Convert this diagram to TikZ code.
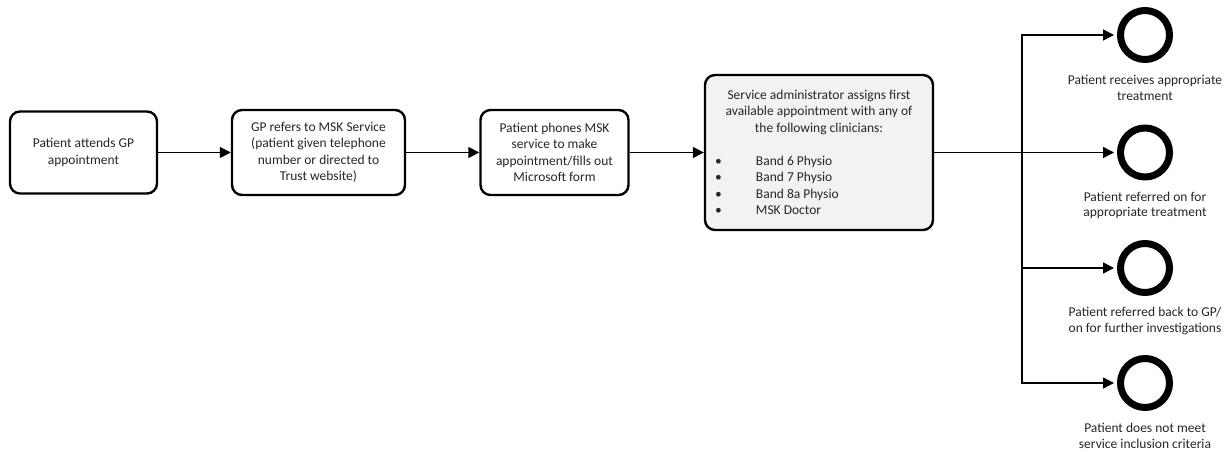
\documentclass[tikz,border=0pt]{standalone}
\usepackage{fontspec}
\setmainfont{Carlito}
\usetikzlibrary{arrows.meta}

\def\punkt#1#2{ ({#1},{451-(#2)}) }
\def\zeile#1{\makebox[208pt][l]{\makebox[41pt][l]{\textbullet}#1}}
\tikzset{
	kasten/.style={draw,line width=2.4pt,rounded corners=10pt,align=center,inner sep=0pt,
		text=black!85,font=\fontsize{13.5}{16.5}\selectfont},
	kreis/.style={draw,circle,line width=7pt,minimum size=49pt,inner sep=0pt},
	fluss/.style={line width=1.5pt,-{Triangle[length=11pt,width=11pt]}},
	beschriftung/.style={align=center,inner sep=0pt,text=black!85,font=\fontsize{13.5}{15.5}\selectfont}
}

\begin{document}
\begin{tikzpicture}[x=1pt,y=1pt]
\useasboundingbox \punkt{0}{0} rectangle \punkt{1229}{451};
\node[kasten,minimum width=147pt,minimum height=82pt] (gp) at \punkt{83.5}{152.5}
	{Patient attends GP\\appointment};
\node[kasten,minimum width=173pt,minimum height=85pt] (ueberweisung) at \punkt{318.5}{152.5}
	{GP refers to MSK Service\\(patient given telephone\\number or directed to\\Trust website)};
\node[kasten,minimum width=148pt,minimum height=85pt] (anruf) at \punkt{554.5}{152.5}
	{Patient phones MSK\\service to make\\appointment/fills out\\Microsoft form};
\node[kasten,fill=black!5,minimum width=228pt,minimum height=155pt] (termin) at \punkt{819}{152.5}
	{Service administrator assigns first\\available appointment with any of\\the following clinicians:\\[16.5pt]
	\zeile{Band 6 Physio}\\\zeile{Band 7 Physio}\\\zeile{Band 8a Physio}\\\zeile{MSK Doctor}};
\draw[fluss] (gp) -- (ueberweisung);
\draw[fluss] (ueberweisung) -- (anruf);
\draw[fluss] (anruf) -- (termin);
\path \punkt{1022}{152.5} coordinate (gabel);
\draw[line width=1.5pt] (termin) -- (gabel);
\foreach \n/\y/\t in {
	1/35/{Patient receives appropriate\\treatment},
	2/152.5/{Patient referred on for\\appropriate treatment},
	3/268/{Patient referred back to GP/\\on for further investigations},
	4/383/{Patient does not meet\\service inclusion criteria}}{
	\node[kreis] (ende\n) at \punkt{1145}{\y} {};
	\draw[fluss,shorten >=3pt] (gabel) |- (ende\n);
	\node[beschriftung] (text\n) at \punkt{1145}{\y+53} {\t};
}
\end{tikzpicture}
\end{document}
